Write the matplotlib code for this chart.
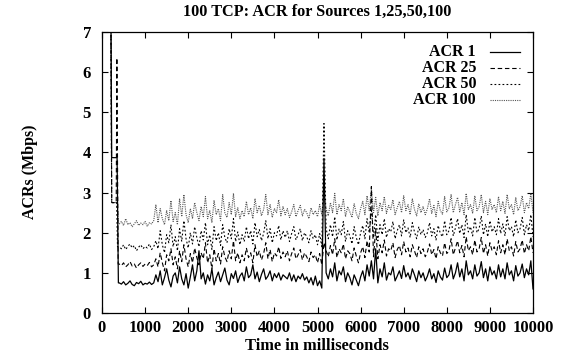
import numpy as np
import matplotlib
matplotlib.use("Agg")
import matplotlib.pyplot as plt
from matplotlib.lines import Line2D

plt.rcParams['font.family'] = ['Liberation Serif', 'DejaVu Serif']
plt.rcParams['font.weight'] = 'bold'

title = "100 TCP: ACR for Sources 1,25,50,100"
xlabel = "Time in milliseconds"
ylabel = "ACRs (Mbps)"
labels = ["ACR 1", "ACR 25", "ACR 50", "ACR 100"]

# start-up transients (time ms, value)
pre_t1 = [200, 225, 350, 380]
pre_v1 = [9.0, 3.87, 3.87, 0.75]
pre_t25 = [200, 225, 330, 345, 375]
pre_v25 = [9.0, 2.75, 2.75, 6.35, 1.22]
pre_t50 = [200, 225, 340, 360]
pre_v50 = [9.0, 2.75, 2.75, 1.65]
pre_t100 = [200, 225, 350, 380]
pre_v100 = [9.0, 2.75, 2.75, 2.22]

# sampled every 50 ms from 400 ms to 10000 ms
grid_start, grid_step = 400, 50

acr1 = [0.75,0.72,0.78,0.70,0.74,0.80,0.71,0.68,0.76,0.73,0.79,0.70,0.74,0.72,0.77,0.71,0.75,
        0.95,0.78,1.05,0.70,0.88,1.10,0.82,0.65,0.92,1.00,0.75,1.15,0.85,0.70,0.98,0.62,0.90,1.20,0.80,1.05,
        1.55,0.85,1.00,0.72,0.95,0.80,1.10,0.70,0.88,1.02,0.78,0.95,1.12,0.82,0.70,0.98,0.86,1.05,0.76,0.92,
        1.00,0.80,1.15,0.88,0.95,1.20,0.85,1.02,0.78,0.96,1.10,0.84,0.92,1.05,0.80,0.98,0.88,1.00,0.82,0.95,
        0.90,0.85,1.00,0.80,0.95,0.78,0.92,0.85,0.98,0.82,0.90,0.75,0.88,0.70,0.92,0.68,0.80,0.62,3.85,1.00,
        0.85,1.10,0.90,1.25,0.80,1.05,0.95,1.15,0.78,1.00,0.88,0.70,0.95,0.82,0.68,0.90,1.05,0.80,1.20,0.92,
        1.30,0.85,1.60,0.75,1.10,0.90,1.25,0.82,1.00,0.95,1.15,0.80,0.92,1.05,0.86,1.18,0.90,1.00,0.84,1.10,
        0.95,0.78,1.05,0.88,1.00,0.80,0.92,1.10,0.85,0.98,0.76,1.05,0.90,0.82,1.12,0.88,0.95,1.20,0.85,1.00,
        1.25,0.90,1.10,0.80,1.30,0.95,1.05,0.85,1.20,0.92,1.00,1.28,0.88,1.10,0.80,1.15,0.95,1.05,0.85,1.20,
        0.90,1.10,0.85,1.25,0.95,1.05,0.80,1.18,0.92,1.00,1.22,0.88,1.10,0.95,1.30,0.60]

acr25 = [1.22,1.18,1.25,1.15,1.20,1.28,1.17,1.22,1.12,1.20,1.25,1.16,1.22,1.18,1.26,1.15,1.20,
         1.35,1.15,1.50,1.25,1.05,1.45,1.30,1.60,1.20,1.40,1.10,1.55,1.28,1.70,1.35,1.15,1.48,1.25,1.62,1.38,
         1.20,1.50,1.35,1.75,1.25,1.45,1.10,1.60,1.30,1.48,1.22,1.65,1.40,1.28,1.55,1.35,1.80,1.30,1.50,1.25,
         1.45,1.30,1.62,1.38,1.50,1.25,1.70,1.40,1.55,1.32,1.48,1.75,1.35,1.58,1.28,1.50,1.42,1.65,1.36,1.52,
         1.40,1.55,1.30,1.48,1.62,1.35,1.45,1.58,1.32,1.50,1.40,1.28,1.52,1.38,1.45,1.25,1.48,1.20,1.75,1.55,
         1.40,1.68,1.45,1.85,1.38,1.60,1.50,1.72,1.35,1.55,1.48,1.30,1.62,1.42,1.25,1.50,1.65,1.38,1.80,1.52,
         3.15,1.40,2.10,1.35,1.70,1.50,1.82,1.42,1.60,1.55,1.75,1.38,1.58,1.68,1.45,1.78,1.52,1.62,1.40,1.70,
         1.55,1.38,1.65,1.48,1.60,1.40,1.52,1.72,1.45,1.58,1.35,1.65,1.50,1.42,1.75,1.48,1.55,1.85,1.45,1.62,
         1.80,1.50,1.68,1.40,1.90,1.55,1.65,1.45,1.82,1.52,1.60,1.88,1.48,1.70,1.42,1.75,1.55,1.65,1.45,1.80,
         1.50,1.70,1.45,1.85,1.55,1.65,1.42,1.78,1.52,1.60,1.82,1.48,1.70,1.55,1.90,1.50]

acr50 = [1.65,1.60,1.70,1.58,1.66,1.72,1.62,1.68,1.55,1.64,1.70,1.60,1.66,1.62,1.72,1.58,1.65,
         1.80,1.60,2.05,1.70,1.50,1.95,1.75,2.20,1.65,1.90,1.55,2.10,1.78,2.30,1.85,1.62,2.00,1.72,2.15,1.88,
         1.65,2.05,1.82,2.25,1.70,1.95,1.58,2.15,1.80,2.00,1.68,2.20,1.88,1.75,2.10,1.85,2.35,1.78,2.02,1.70,
         1.95,1.78,2.15,1.85,2.05,1.72,2.25,1.90,2.08,1.80,1.98,2.30,1.85,2.10,1.75,2.00,1.92,2.18,1.82,2.05,
         1.88,2.05,1.78,1.98,2.15,1.82,1.95,2.10,1.80,2.00,1.90,1.75,2.05,1.85,1.95,1.70,1.98,1.65,4.72,2.10,
         1.85,2.20,1.90,2.40,1.82,2.10,1.95,2.28,1.78,2.05,1.92,1.72,2.15,1.88,1.70,2.00,2.18,1.85,2.35,2.00,
         2.60,1.88,2.45,1.80,2.20,1.95,2.35,1.88,2.10,2.02,2.28,1.85,2.05,2.20,1.92,2.32,2.00,2.12,1.88,2.25,
         2.02,1.85,2.15,1.95,2.08,1.88,2.00,2.25,1.92,2.10,1.82,2.18,1.98,1.90,2.30,1.95,2.05,2.38,1.92,2.12,
         2.35,1.98,2.20,1.88,2.45,2.02,2.15,1.92,2.38,2.00,2.10,2.42,1.95,2.22,1.90,2.30,2.02,2.15,1.95,2.35,
         1.98,2.22,1.92,2.40,2.05,2.15,1.90,2.32,2.00,2.10,2.38,1.95,2.20,2.05,2.45,1.90]

acr100 = [2.22,2.28,2.18,2.35,2.20,2.25,2.15,2.22,2.30,2.18,2.24,2.20,2.28,2.16,2.25,2.22,2.30,
          2.70,2.25,2.60,2.35,2.20,2.55,2.30,2.80,2.28,2.50,2.20,2.85,2.40,2.95,2.45,2.25,2.60,2.35,2.75,2.50,
          2.30,2.65,2.40,2.90,2.35,2.55,2.25,2.80,2.45,2.60,2.30,2.95,2.50,2.38,2.75,2.45,2.98,2.40,2.62,2.35,
          2.55,2.40,2.78,2.45,2.62,2.35,2.85,2.50,2.68,2.42,2.58,2.95,2.45,2.70,2.38,2.60,2.50,2.82,2.42,2.65,
          2.45,2.60,2.38,2.52,2.70,2.40,2.55,2.68,2.42,2.58,2.50,2.35,2.62,2.45,2.55,2.40,2.70,2.45,2.95,2.60,
          2.42,2.75,2.50,2.98,2.45,2.70,2.55,2.85,2.40,2.65,2.52,2.38,2.72,2.48,2.35,2.60,2.78,2.45,2.92,2.55,
          3.10,2.50,2.88,2.42,2.75,2.55,2.90,2.48,2.68,2.58,2.82,2.45,2.62,2.78,2.50,2.92,2.55,2.70,2.45,2.85,
          2.58,2.42,2.72,2.50,2.65,2.45,2.60,2.85,2.48,2.68,2.40,2.78,2.55,2.46,2.90,2.52,2.62,2.95,2.50,2.70,
          2.88,2.52,2.75,2.45,2.98,2.58,2.70,2.48,2.92,2.55,2.65,2.95,2.50,2.78,2.45,2.85,2.58,2.70,2.50,2.90,
          2.55,2.78,2.48,2.95,2.60,2.70,2.45,2.88,2.55,2.65,2.92,2.50,2.75,2.60,2.98,2.50]

xticks = list(range(0, 10001, 1000))
yticks = list(range(0, 8))

W, H = 565, 356
fig = plt.figure(figsize=(W / 100, H / 100), dpi=100)
L, R, T, B = 102, 533, 32, 313
ax = fig.add_axes([L / W, 1 - B / H, (R - L) / W, (B - T) / H])

styles = [
    dict(color='black', lw=0.9, linestyle='-'),
    dict(color='black', lw=0.8, linestyle=(0, (4, 2.5))),
    dict(color='black', lw=0.8, linestyle=(0, (1.6, 2))),
    dict(color='#555555', lw=0.8, linestyle=(0, (1, 1))),
]
series = [(pre_t1, pre_v1, acr1), (pre_t25, pre_v25, acr25),
          (pre_t50, pre_v50, acr50), (pre_t100, pre_v100, acr100)]

# draw in reverse so ACR 1 is on top
for (pt, pv, vals), st in reversed(list(zip(series, styles))):
    grid_t = grid_start + grid_step * np.arange(len(vals))
    t = np.concatenate([pt, grid_t])
    v = np.concatenate([pv, vals])
    ax.plot(t, v, **st)

ax.set_xlim(0, 10000)
ax.set_ylim(0, 7)
ax.set_xticks(xticks)
ax.set_yticks(yticks)
ax.tick_params(direction='in', length=4.5, width=0.8, top=True, right=True,
               labelsize=12, pad=5)
ax.tick_params(axis='y', pad=8)
for lab in ax.get_xticklabels() + ax.get_yticklabels():
    lab.set_fontweight('bold')
for s in ax.spines.values():
    s.set_linewidth(0.9)

fig.text((L + R) / 2 / W, 1 - 12 / H, title, ha='center', va='center',
         fontsize=11.7, fontweight='bold')
fig.text(317 / W, 1 - 346 / H, xlabel, ha='center', va='center',
         fontsize=11.8, fontweight='bold')
fig.text(30 / W, 1 - 172 / H, ylabel, ha='center', va='center', rotation=90,
         fontsize=11.5, fontweight='bold')

# legend (manual, gnuplot style: right-aligned text, sample on the right)
rows = [52, 68, 84, 100]
for lab, st, yy in zip(labels, styles, rows):
    fig.text(476 / W, 1 - yy / H, lab, ha='right', va='center',
             fontsize=11.5, fontweight='bold')
    fig.add_artist(Line2D([490 / W, 520 / W], [1 - yy / H, 1 - yy / H],
                          transform=fig.transFigure, **st))

fig.savefig("out.png", dpi=100)
